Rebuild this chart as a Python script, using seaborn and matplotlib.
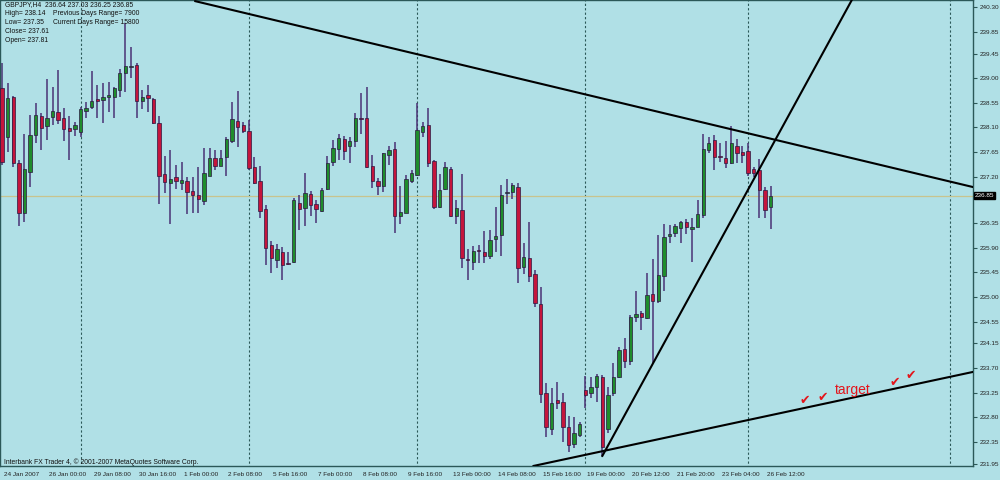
import numpy as np
import pandas as pd
import matplotlib
matplotlib.use('Agg')
import matplotlib.pyplot as plt
import matplotlib.transforms as mtransforms
import seaborn as sns

# GBPJPY H4 candles (bar 0 = 24 Jan 2007)
opens = [238.82, 237.93, 238.66, 237.45, 236.54, 237.29, 237.96, 238.31, 238.13, 238.29,
         238.38, 238.27, 238.09, 238.07, 238.02, 238.40, 238.47, 238.62, 238.60, 238.66,
         238.66, 238.78, 239.10, 239.21, 239.24, 238.58, 238.69, 238.62, 238.18, 237.25,
         237.08, 237.19, 237.08, 237.12, 236.94, 236.87, 236.76, 237.21, 237.54, 237.40,
         237.56, 237.85, 238.22, 238.15, 238.04, 237.38, 237.12, 236.61, 235.95, 235.68,
         235.82, 235.62, 235.64, 236.72, 236.63, 236.88, 236.70, 236.57, 236.98, 237.47,
         237.71, 237.89, 237.76, 237.85, 238.27, 238.27, 237.40, 237.12, 237.03, 237.60,
         237.71, 236.48, 236.54, 237.12, 237.23, 238.02, 238.15, 237.49, 236.65, 236.98,
         237.34, 236.48, 236.59, 235.70, 235.64, 235.86, 235.82, 235.75, 236.06, 236.13,
         236.90, 236.92, 237.01, 235.55, 235.71, 235.42, 234.87, 233.25, 232.59, 233.12,
         233.08, 232.62, 232.31, 232.48, 233.30, 233.25, 233.36, 233.54, 232.59, 233.25,
         233.54, 234.05, 233.83, 234.63, 234.71, 234.62, 235.06, 234.93, 235.38, 236.12,
         236.17, 236.26, 236.37, 236.24, 236.28, 236.50, 237.69, 237.87, 237.58, 237.54,
         237.45, 237.76, 237.65, 237.67, 237.34, 237.32, 236.96, 236.64]
highs = [239.28, 238.91, 238.68, 237.51, 237.98, 238.33, 238.55, 238.36, 238.99, 238.84,
         239.15, 238.46, 238.31, 238.20, 238.47, 238.57, 239.13, 238.88, 238.91, 238.93,
         238.84, 239.17, 240.01, 239.57, 239.28, 238.78, 238.88, 238.64, 238.31, 237.58,
         237.69, 237.41, 237.47, 237.19, 237.19, 237.38, 237.72, 237.72, 237.69, 237.69,
         237.93, 238.57, 238.77, 238.20, 238.24, 237.56, 237.40, 236.68, 236.02, 235.97,
         235.91, 235.82, 236.81, 236.87, 237.27, 236.94, 236.77, 236.99, 237.58, 237.87,
         237.98, 237.94, 237.93, 238.36, 238.73, 238.84, 237.60, 237.18, 237.63, 237.76,
         237.83, 237.03, 237.23, 237.32, 238.55, 238.20, 238.46, 237.51, 237.25, 237.47,
         237.38, 236.77, 237.25, 235.88, 235.93, 235.95, 236.21, 236.23, 236.65, 237.05,
         237.16, 237.08, 237.08, 235.99, 236.37, 235.49, 235.18, 233.43, 233.34, 233.45,
         233.25, 232.83, 232.81, 232.72, 233.56, 233.54, 233.59, 233.58, 233.36, 233.79,
         234.09, 234.25, 234.67, 235.11, 234.74, 235.44, 235.70, 236.13, 236.34, 236.32,
         236.34, 236.39, 236.43, 236.45, 236.77, 237.98, 237.93, 237.96, 237.82, 237.85,
         238.13, 237.89, 237.76, 237.82, 237.38, 237.52, 237.01, 237.03]
lows = [237.41, 237.65, 237.38, 236.30, 236.37, 237.01, 237.82, 237.69, 237.87, 238.15,
        238.16, 237.85, 237.51, 237.94, 237.93, 238.27, 238.44, 238.27, 238.18, 238.38,
        238.27, 238.66, 238.75, 239.00, 238.27, 238.44, 238.38, 238.16, 236.70, 236.90,
        236.34, 236.98, 236.96, 236.52, 236.54, 236.54, 236.68, 237.21, 237.32, 237.40,
        237.21, 237.82, 237.74, 238.00, 237.32, 237.07, 236.45, 235.59, 235.44, 235.53,
        235.31, 235.59, 235.62, 236.23, 236.30, 236.48, 236.35, 236.55, 236.96, 237.40,
        237.51, 237.51, 237.45, 237.74, 237.98, 237.36, 236.99, 236.87, 236.92, 237.41,
        236.17, 236.34, 236.54, 237.08, 237.21, 237.93, 237.38, 236.61, 236.63, 236.96,
        236.46, 236.34, 235.53, 235.31, 235.49, 235.62, 235.62, 235.70, 235.82, 235.75,
        236.70, 236.79, 235.26, 235.42, 235.28, 234.82, 233.06, 232.44, 232.48, 232.95,
        232.35, 232.17, 232.24, 232.44, 232.97, 233.15, 233.08, 232.09, 232.51, 233.19,
        233.52, 233.70, 233.76, 234.54, 234.40, 234.60, 233.79, 234.89, 235.11, 235.99,
        236.10, 235.99, 236.15, 235.64, 236.28, 236.45, 237.63, 237.32, 237.47, 237.36,
        237.43, 237.45, 237.45, 237.21, 237.19, 236.45, 236.45, 236.25]
closes = [237.47, 238.64, 237.45, 236.54, 237.34, 237.96, 238.33, 238.09, 238.27, 238.40,
          238.24, 238.07, 238.04, 238.15, 238.44, 238.46, 238.58, 238.58, 238.66, 238.69,
          238.82, 239.10, 239.22, 239.22, 238.58, 238.66, 238.64, 238.18, 237.21, 237.10,
          237.16, 237.12, 237.14, 236.92, 236.87, 236.79, 237.27, 237.54, 237.40, 237.54,
          237.89, 238.25, 238.11, 238.04, 237.36, 237.08, 236.57, 235.90, 235.71, 235.88,
          235.59, 235.60, 236.77, 236.61, 236.90, 236.68, 236.61, 236.96, 237.45, 237.72,
          237.91, 237.67, 237.85, 238.27, 238.25, 237.38, 237.12, 237.03, 237.63, 237.69,
          236.48, 236.55, 237.16, 237.27, 238.05, 238.13, 237.45, 236.65, 236.96, 237.38,
          236.48, 236.63, 235.71, 235.68, 235.84, 235.84, 235.75, 236.04, 236.12, 236.87,
          236.92, 237.05, 235.53, 235.73, 235.38, 234.89, 233.23, 232.62, 233.06, 233.06,
          232.62, 232.30, 232.51, 232.68, 233.21, 233.36, 233.56, 232.26, 233.21, 233.54,
          234.03, 233.83, 234.63, 234.69, 234.63, 235.04, 234.93, 235.40, 236.10, 236.15,
          236.30, 236.37, 236.28, 236.28, 236.52, 237.71, 237.82, 237.56, 237.56, 237.45,
          237.82, 237.63, 237.60, 237.27, 237.27, 236.96, 236.59, 236.85]

date_labels = ["24 Jan 2007", "26 Jan 00:00", "29 Jan 08:00", "30 Jan 16:00", "1 Feb 00:00",
               "2 Feb 08:00", "5 Feb 16:00", "7 Feb 00:00", "8 Feb 08:00", "9 Feb 16:00",
               "13 Feb 00:00", "14 Feb 08:00", "15 Feb 16:00", "19 Feb 00:00", "20 Feb 12:00",
               "21 Feb 20:00", "23 Feb 04:00", "26 Feb 12:00"]
price_ticks = [240.30, 239.85, 239.45, 239.00, 238.55, 238.10, 237.65, 237.20, 236.35,
               235.90, 235.45, 235.00, 234.55, 234.15, 233.70, 233.25, 232.80, 232.35, 231.95]
current_price = 236.85
week_bars = [14, 44, 74, 104, 133, 169]

# trendlines drawn on the chart: (bar, price) end points
upper_x, upper_y = [34.4, 173.1], [240.41, 237.01]
steep_x, steep_y = [107.0, 151.5], [232.09, 240.43]
lower_x, lower_y = [94.7, 173.1], [231.91, 233.63]

# hand-drawn "target" notes
check_x = [143.1, 146.3, 159.2, 162.0]
check_y = [233.10, 233.16, 233.43, 233.56]
target_x, target_y = 151.7, 233.30

bg = '#b0e0e6'
frame = '#2b5858'
small = 4.6
sns.set_style('white')
plt.rcParams['font.family'] = ['Liberation Sans', 'DejaVu Sans']

df = pd.DataFrame({'open': opens, 'high': highs, 'low': lows, 'close': closes})
df['bar'] = np.arange(len(df))
df['up'] = df['close'] >= df['open']

fig = plt.figure(figsize=(10, 4.8), dpi=100, facecolor=bg)
ax = fig.add_axes([0.0, 14 / 480, 0.973, 466 / 480])
ax.set_facecolor(bg)

# weekly separators and the current price line
ax.vlines(week_bars, 231.0, 241.0, colors=frame, linestyles=(0, (2, 2)), lw=0.8, zorder=1)
ax.axhline(current_price, color='#c8c48e', lw=0.9, zorder=1.5)

# candles
ax.vlines(df['bar'], df['low'], df['high'], colors='#4a3275', lw=1.1, zorder=2)
body_bottom = df[['open', 'close']].min(axis=1)
body_height = (df['close'] - df['open']).abs()
ax.bar(df['bar'], body_height, bottom=body_bottom, width=0.6,
       color=np.where(df['up'], '#1f8c2c', '#c4153c'),
       edgecolor='#2a1840', linewidth=0.5, zorder=3)

# trendlines
for lx, ly in [(upper_x, upper_y), (steep_x, steep_y), (lower_x, lower_y)]:
    sns.lineplot(x=lx, y=ly, ax=ax, color='black', lw=1.5, zorder=4)

for cx, cy in zip(check_x, check_y):
    ax.text(cx, cy, '\u2714', color='#e3151b', fontsize=9, ha='center', va='center',
            family=['DejaVu Sans'], zorder=5)
ax.text(target_x, target_y, 'target', color='#e3151b', fontsize=10, ha='center',
        va='center', zorder=5)

ax.set_xlim(-0.36, 173.1)
ax.set_ylim(231.91, 240.43)

# axes look like the MT4 terminal
for s in ax.spines.values():
    s.set_color(frame)
    s.set_linewidth(1.0)
ax.yaxis.tick_right()
ax.set_yticks(price_ticks)
ax.set_yticklabels([f'{p:.2f}' for p in price_ticks])
ax.tick_params(axis='y', direction='out', length=3, width=0.8, pad=1.5,
               labelsize=small, colors=frame, labelcolor='#222222')
ax.set_xticks(np.arange(0, len(df), 8))
ax.set_xticklabels(date_labels, ha='left')
ax.tick_params(axis='x', direction='out', length=3, width=0.8, pad=1,
               labelsize=small, colors=frame, labelcolor='#222222')
offset = mtransforms.ScaledTranslation(2 / 100, 0, fig.dpi_scale_trans)
for lbl in ax.get_xticklabels():
    lbl.set_transform(lbl.get_transform() + offset)
ax.set_xlabel('')
ax.set_ylabel('')

ax.text(1.002, current_price, '236.85', transform=ax.get_yaxis_transform(),
        fontsize=small, color='white', ha='left', va='center',
        bbox=dict(boxstyle='square,pad=0.15', fc='black', ec='black'))

# info block and copyright
info_left = ['GBPJPY,H4  236.64 237.03 236.25 236.85', 'High= 238.14', 'Low= 237.35',
             'Close= 237.61', 'Open= 237.81']
info_right = ['Previous Days Range= 7900', 'Current Days Range= 15800']
for i, line in enumerate(info_left):
    fig.text(5 / 1000, 1 - (4.5 + 9 * i) / 480, line, fontsize=4.9, va='center', color='#111111')
for i, line in enumerate(info_right):
    fig.text(53 / 1000, 1 - (13.5 + 9 * i) / 480, line, fontsize=4.9, va='center', color='#111111')
fig.text(4 / 1000, 1 - 462 / 480, 'Interbank FX Trader 4, \u00a9 2001-2007 MetaQuotes Software Corp.',
         fontsize=4.9, va='center', color='#111111')

fig.savefig('out.png', dpi=100, facecolor=bg)
